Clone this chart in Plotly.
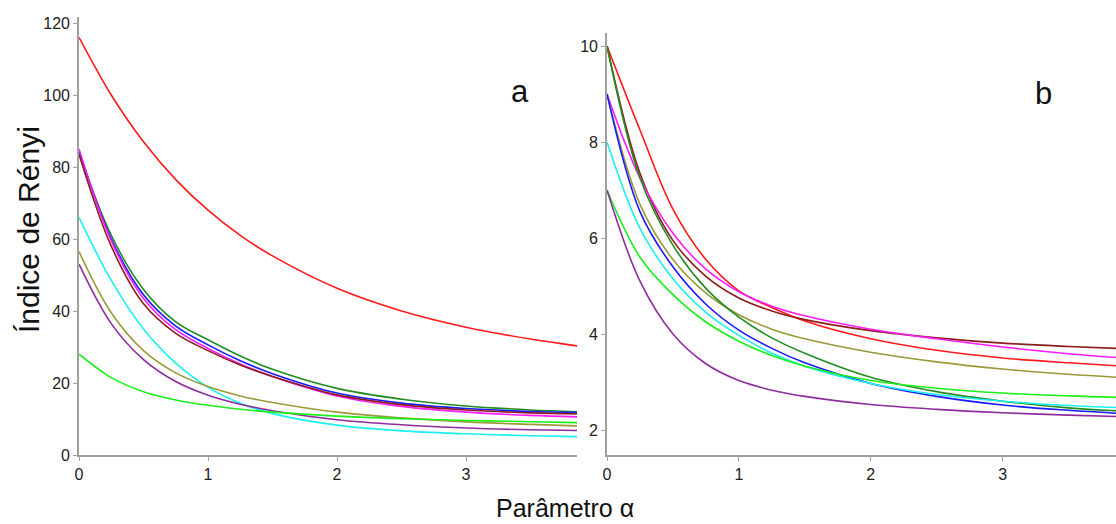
import plotly.graph_objects as go

alpha = [0, 0.25, 0.5, 0.75, 1, 1.25, 1.5, 2, 2.5, 3, 3.5, 3.86]

# Panel a
a_red     = [116, 100, 87, 76.5, 68, 61, 55.3, 46.3, 40, 35.5, 32.2, 30.3]
a_green   = [84, 61, 46, 37, 32.0, 27.5, 23.8, 18.5, 15.5, 13.6, 12.5, 12.0]
a_blue    = [84.5, 60, 44.5, 35.8, 30.6, 26.2, 22.6, 17.2, 14.4, 12.9, 12.1, 11.8]
a_magenta = [85, 59.5, 43.5, 34.8, 29.6, 25.3, 21.8, 16.4, 13.5, 11.9, 11.0, 10.6]
a_brown   = [83.5, 58, 42, 33.8, 29.0, 25.0, 21.8, 16.7, 14.0, 12.5, 11.7, 11.4]
a_cyan    = [66, 48.5, 35, 25.5, 18.8, 14.4, 11.5, 8.3, 6.7, 5.9, 5.35, 5.1]
a_olive   = [56.5, 39.5, 29.0, 22.8, 19.0, 16.4, 14.6, 11.9, 10.3, 9.2, 8.5, 8.1]
a_purple  = [53, 36.5, 26.5, 20.4, 16.6, 14.1, 12.3, 9.8, 8.4, 7.5, 7.0, 6.8]
a_lime    = [28, 21.5, 17.6, 15.3, 13.8, 12.7, 11.9, 10.8, 10.1, 9.6, 9.25, 9.0]

# Panel b
b_red     = [10, 8.25, 6.6, 5.55, 4.9, 4.55, 4.27, 3.9, 3.66, 3.5, 3.4, 3.34]
b_brown   = [10, 7.35, 5.95, 5.2, 4.75, 4.48, 4.3, 4.07, 3.92, 3.81, 3.74, 3.70]
b_magenta = [9, 7.25, 6.1, 5.35, 4.88, 4.58, 4.38, 4.1, 3.9, 3.73, 3.59, 3.51]
b_olive   = [9, 6.7, 5.55, 4.85, 4.4, 4.1, 3.9, 3.62, 3.42, 3.27, 3.16, 3.10]
b_green   = [10, 7.25, 5.85, 4.95, 4.35, 3.92, 3.6, 3.1, 2.8, 2.6, 2.46, 2.40]
b_blue    = [9, 6.55, 5.4, 4.62, 4.08, 3.7, 3.4, 2.97, 2.7, 2.52, 2.41, 2.35]
b_cyan    = [8, 6.2, 5.15, 4.45, 3.97, 3.6, 3.33, 2.97, 2.74, 2.6, 2.51, 2.47]
b_lime    = [7, 5.6, 4.82, 4.25, 3.85, 3.55, 3.33, 3.03, 2.87, 2.77, 2.71, 2.68]
b_purple  = [7, 5.1, 4.0, 3.38, 3.03, 2.83, 2.7, 2.53, 2.43, 2.36, 2.31, 2.28]

colors = {
    "red": "#FF1A1A", "brown": "#8B1C1C", "green": "#228B22", "blue": "#1A1AFF",
    "magenta": "#FF1AFF", "olive": "#9C9A38", "cyan": "#1AF0F0",
    "purple": "#8E2C9E", "lime": "#1AF01A",
}

series_a = [("red", a_red), ("green", a_green), ("blue", a_blue), ("magenta", a_magenta),
            ("brown", a_brown), ("cyan", a_cyan), ("olive", a_olive),
            ("purple", a_purple), ("lime", a_lime)]
series_b = [("red", b_red), ("brown", b_brown), ("magenta", b_magenta), ("olive", b_olive),
            ("green", b_green), ("blue", b_blue), ("cyan", b_cyan),
            ("lime", b_lime), ("purple", b_purple)]

fig = go.Figure()
for name, vals in series_a:
    fig.add_trace(go.Scatter(x=alpha, y=vals, mode="lines", xaxis="x", yaxis="y",
                             line=dict(color=colors[name], width=1.6, shape="spline", smoothing=1.0),
                             showlegend=False, hoverinfo="skip"))
for name, vals in series_b:
    fig.add_trace(go.Scatter(x=alpha, y=vals, mode="lines", xaxis="x2", yaxis="y2",
                             line=dict(color=colors[name], width=1.6, shape="spline", smoothing=1.0),
                             showlegend=False, hoverinfo="skip"))

FONT = "Liberation Sans, Arial"
axis_common = dict(showline=True, linecolor="#A0A0A0", linewidth=1.6, showgrid=False,
                   zeroline=False, ticks="outside", ticklen=4, tickcolor="#A0A0A0",
                   tickfont=dict(family=FONT, size=16, color="#222222"))

W, H = 1116, 524
ml, mr, mt, mb = 79, 0, 17, 69
pw = W - ml - mr
ph = H - mt - mb

fig.update_layout(
    width=W, height=H,
    margin=dict(l=ml, r=mr, t=mt, b=mb),
    paper_bgcolor="white", plot_bgcolor="white",
    xaxis=dict(domain=[0, (577 - ml) / pw], range=[0, 3.86], tickvals=[0, 1, 2, 3],
               anchor="y", **axis_common),
    yaxis=dict(domain=[0, 1], range=[0, ph / 3.6], tickvals=[0, 20, 40, 60, 80, 100, 120],
               anchor="x", **axis_common),
    xaxis2=dict(domain=[(607 - ml) / pw, 1], range=[0, 3.86], tickvals=[0, 1, 2, 3],
                anchor="y2", **axis_common),
    yaxis2=dict(domain=[0, (455 - 33) / ph], range=[2 - 25 / 48, 2 + 397 / 48],
                tickvals=[2, 4, 6, 8, 10], anchor="x2", **axis_common),
    annotations=[
        dict(text="Índice de Rényi", xref="paper", yref="paper",
             x=(29 - ml) / pw, y=(H - mb - 230) / ph, textangle=-90, showarrow=False,
             font=dict(family=FONT, size=30, color="#111111"),
             xanchor="center", yanchor="middle"),
        dict(text="Parâmetro α", xref="paper", yref="paper",
             x=(565 - ml) / pw, y=(H - mb - 508) / ph, showarrow=False,
             font=dict(family=FONT, size=25, color="#111111"),
             xanchor="center", yanchor="middle"),
        dict(text="a", xref="paper", yref="paper",
             x=(520 - ml) / pw, y=(H - mb - 91) / ph, showarrow=False,
             font=dict(family=FONT, size=31, color="#111111"),
             xanchor="center", yanchor="middle"),
        dict(text="b", xref="paper", yref="paper",
             x=(1043 - ml) / pw, y=(H - mb - 93) / ph, showarrow=False,
             font=dict(family=FONT, size=31, color="#111111"),
             xanchor="center", yanchor="middle"),
    ],
)

fig.write_html("out.html", config={"displayModeBar": False},
               post_script="document.body.style.margin='0';document.body.style.overflow='hidden';")
